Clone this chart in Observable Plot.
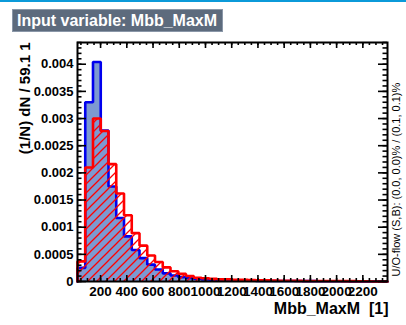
<!DOCTYPE html>
<html><head><meta charset="utf-8">
<script src="https://cdn.jsdelivr.net/npm/d3@7"></script>
<script src="https://cdn.jsdelivr.net/npm/@observablehq/plot@0.6"></script>
<style>
body{margin:0;background:#fff;}
#wrap{position:relative;width:406px;height:325px;overflow:hidden;font-family:"Liberation Sans",Arial,Helvetica,sans-serif;}
#topline{position:absolute;left:0;top:0;width:406px;height:2px;background:#0b9ad9;}
#title{position:absolute;left:12px;top:9px;height:23px;padding:0 5px 0 4px;box-sizing:border-box;background:#5D6B7D;border:1px solid #8a97a8;color:#fff;font-weight:bold;font-size:16px;line-height:21px;white-space:nowrap;}
#chart svg{position:absolute;left:0;top:0;}
</style></head><body>
<div id="wrap"><div id="chart"></div><div id="topline"></div><div id="title"></div></div>
<script>
const titleText = "Input variable: Mbb_MaxM";
const xMin = 24;
const binWidth = 59.1;
const signal = [0.00025, 0.0033, 0.00404, 0.00278, 0.00175, 0.00117, 0.00083, 0.00058, 0.00043, 0.00031,
  0.00022, 0.00015, 0.00011, 0.00008, 0.00006, 0.00005, 0.00004, 0.00003, 0.000025, 0.00002,
  0.00002, 0.000015, 0.000015, 0.00001, 0.00001, 0.00001, 0.00001, 0.000008, 0.000008, 0.000006,
  0.000006, 0.000005, 0.000005, 0.000004, 0.000004, 0.000003, 0.000003, 0.000003, 0.000002, 0.000002];
const background = [0.00037, 0.0021, 0.0030, 0.00277, 0.00216, 0.00162, 0.00122, 0.00089, 0.00066, 0.00048,
  0.00036, 0.00026, 0.00019, 0.00014, 0.0001, 0.00007, 0.00006, 0.00005, 0.00004, 0.00004,
  0.00003, 0.00003, 0.000025, 0.00002, 0.00002, 0.000018, 0.000015, 0.000015, 0.000012, 0.00001,
  0.00001, 0.00001, 0.000008, 0.000008, 0.000006, 0.000006, 0.000005, 0.000004, 0.0, 0.0];
const xTicks = [200, 400, 600, 800, 1000, 1200, 1400, 1600, 1800, 2000, 2200];
const xTickLabels = ["200", "400", "600", "800", "1000", "1200", "1400", "1600", "1800", "2000", "2200"];
const yTicks = [0, 0.0005, 0.001, 0.0015, 0.002, 0.0025, 0.003, 0.0035, 0.004];
const yTickLabels = ["0", "0.0005", "0.001", "0.0015", "0.002", "0.0025", "0.003", "0.0035", "0.004"];
const yMax = 0.0044;
const xTitle = "Mbb_MaxM  [1]";
const yTitle = "(1/N) dN / 59.1 1";
const flowText = "U/O-flow (S,B): (0.0, 0.0)% / (0.1, 0.1)%";

document.getElementById("title").textContent = titleText;

const xMax = xMin + signal.length * binWidth;
function steps(vals) {
  const pts = [{x: xMin, y: 0}];
  vals.forEach((v, i) => {
    pts.push({x: xMin + i * binWidth, y: v});
    pts.push({x: xMin + (i + 1) * binWidth, y: v});
  });
  pts.push({x: xMin + vals.length * binWidth, y: 0});
  return pts;
}
const sig = steps(signal), bkg = steps(background);
const xMinor = d3.range(50, xMax, 50).filter(v => v > xMin);
const yMinor = d3.range(0, 45).map(i => i * 0.0001).filter(v => v <= yMax);

const W = 406, H = 325, mL = 77, mR = 19, mT = 42, mB = 44;
const fw = W - mL - mR, fh = H - mT - mB;
const font = '"Liberation Sans", Arial, Helvetica, sans-serif';
const tk = {stroke: "black", strokeWidth: 1.6};

const plot = Plot.plot({
  width: W, height: H, marginLeft: mL, marginRight: mR, marginTop: mT, marginBottom: mB,
  style: {fontFamily: font, background: "transparent", overflow: "visible"},
  x: {domain: [xMin, xMax]},
  y: {domain: [0, yMax]},
  marks: [
    Plot.areaY(sig, {x: "x", y1: 0, y2: "y", fill: "#7d99d1"}),
    Plot.line(sig, {x: "x", y: "y", stroke: "#0000ee", strokeWidth: 2.6, strokeLinejoin: "miter"}),
    Plot.areaY(bkg, {x: "x", y1: 0, y2: "y", fill: "url(#hatch)"}),
    Plot.line(bkg, {x: "x", y: "y", stroke: "#ff0000", strokeWidth: 2.6, strokeLinejoin: "miter"}),
    Plot.frame({stroke: "black", strokeWidth: 2}),
    Plot.tickY(yMinor, {y: d => d, insetRight: fw - 4.5, ...tk}),
    Plot.tickY(yTicks, {y: d => d, insetRight: fw - 9, ...tk}),
    Plot.tickY(yMinor, {y: d => d, insetLeft: fw - 4.5, ...tk}),
    Plot.tickY(yTicks, {y: d => d, insetLeft: fw - 9, ...tk}),
    Plot.tickX(xMinor, {x: d => d, insetTop: fh - 3, ...tk}),
    Plot.tickX(xTicks, {x: d => d, insetTop: fh - 6, ...tk}),
    Plot.tickX(xMinor, {x: d => d, insetBottom: fh - 3, ...tk}),
    Plot.tickX(xTicks, {x: d => d, insetBottom: fh - 6, ...tk}),
    Plot.axisY(yTicks, {tickSize: 0, tickPadding: 4, tickFormat: d => yTickLabels[yTicks.indexOf(d)], fontSize: 13, fontWeight: "bold", fill: "black", label: null}),
    Plot.axisX(xTicks, {tickSize: 0, tickPadding: 5, tickFormat: d => xTickLabels[xTicks.indexOf(d)], fontSize: 13.5, fontWeight: "bold", fill: "black", label: null}),
    Plot.text([yTitle], {frameAnchor: "top-left", rotate: -90, textAnchor: "end", dx: -58, fontSize: 15, fontWeight: "bold", fill: "black"}),
    Plot.text([xTitle], {frameAnchor: "bottom-right", textAnchor: "end", dy: 32, dx: 1, fontSize: 16, fontWeight: "bold", fill: "black"}),
    Plot.text([flowText], {frameAnchor: "bottom-right", rotate: -90, textAnchor: "start", dx: 12, dy: -5, fontSize: 11, fill: "black"})
  ]
});
d3.select(plot).insert("defs", ":first-child").html(
  '<pattern id="hatch" patternUnits="userSpaceOnUse" width="9" height="9">' +
  '<path d="M-2,2 L2,-2 M0,9 L9,0 M7,11 L11,7" stroke="#ff0000" stroke-width="1.3"/></pattern>');
document.getElementById("chart").appendChild(plot);
</script>
</body></html>
